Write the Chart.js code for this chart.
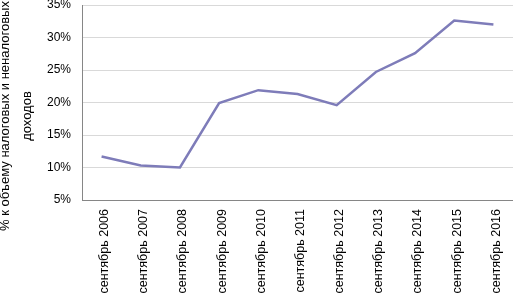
<!DOCTYPE html>
<html>
<head>
<meta charset="utf-8">
<script src="https://cdn.jsdelivr.net/npm/chart.js@4/dist/chart.umd.min.js"></script>
<style>
  html, body { margin: 0; padding: 0; background: #fff; }
  canvas { display: block; }
</style>
</head>
<body>
<canvas id="chart" width="513" height="296"></canvas>
<script>
const labels = ['сентябрь 2006', 'сентябрь 2007', 'сентябрь 2008', 'сентябрь 2009', 'сентябрь 2010',
  'сентябрь 2011', 'сентябрь 2012', 'сентябрь 2013', 'сентябрь 2014', 'сентябрь 2015', 'сентябрь 2016'];
const shares = [11.7, 10.3, 10.0, 19.9, 21.9, 21.3, 19.6, 24.7, 27.6, 32.6, 32.0];
const yTitleLines = ['% к объему налоговых и неналоговых', 'доходов'];

const font = 'Liberation Sans, Arial, sans-serif';

// y axis title drawn by hand so it can sit a little lower, like the original
const yTitle = {
  id: 'yTitle',
  afterDraw(chart) {
    const ctx = chart.ctx;
    ctx.save();
    ctx.fillStyle = '#000';
    ctx.font = '13px ' + font;
    ctx.textAlign = 'center';
    ctx.textBaseline = 'alphabetic';
    const xs = [9, 31];
    yTitleLines.forEach((t, i) => {
      ctx.save();
      ctx.translate(xs[i], 116);
      ctx.rotate(-Math.PI / 2);
      ctx.fillText(t, 0, 0);
      ctx.restore();
    });
    ctx.restore();
  }
};

new Chart(document.getElementById('chart').getContext('2d'), {
  type: 'line',
  data: {
    labels: labels,
    datasets: [{
      data: shares,
      borderColor: '#7e7cb9',
      borderWidth: 2.5,
      pointRadius: 0,
      tension: 0,
      fill: false
    }]
  },
  options: {
    responsive: false,
    animation: false,
    layout: { padding: { top: 5, right: 0, left: 0, bottom: 0 } },
    plugins: { legend: { display: false }, tooltip: { enabled: false } },
    scales: {
      x: {
        offset: true,
        grid: { display: false, drawTicks: false },
        border: { color: '#868686', width: 1 },
        ticks: {
          color: '#000',
          font: { family: font, size: 12.5 },
          minRotation: 90,
          maxRotation: 90,
          padding: 9,
          labelOffset: 3,
          autoSkip: false
        },
        afterFit(scale) {
          scale.height = 96;
          scale.paddingLeft = 0;
          scale.paddingRight = 0;
        }
      },
      y: {
        min: 5,
        max: 35,
        grid: { color: '#d9d9d9', drawTicks: false },
        border: { color: '#868686', width: 1 },
        ticks: {
          stepSize: 5,
          color: '#000',
          font: { family: font, size: 12 },
          padding: 11,
          callback: v => v + '%'
        },
        afterFit(scale) {
          scale.width = 82;
          scale.paddingTop = 0;
          scale.paddingBottom = 0;
        }
      }
    }
  },
  plugins: [yTitle]
});
</script>
</body>
</html>
